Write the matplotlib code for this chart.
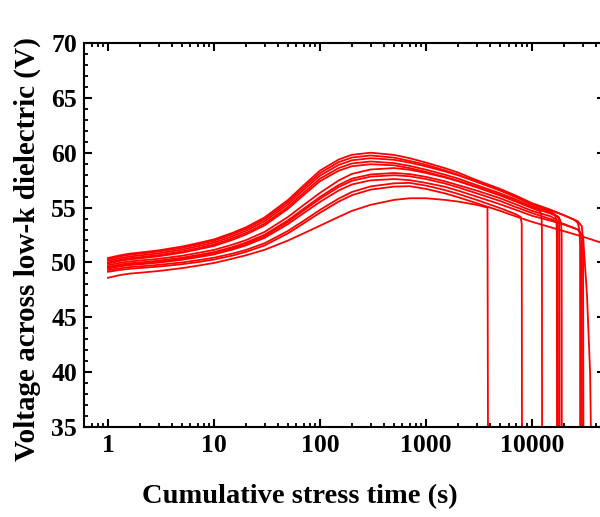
import matplotlib
matplotlib.use("Agg")
import matplotlib.pyplot as plt
from matplotlib.ticker import LogLocator, NullFormatter, MultipleLocator, FixedLocator

plt.rcParams['font.family'] = ['Liberation Serif', 'DejaVu Serif']
plt.rcParams['font.weight'] = 'bold'

# common time grid (s)
T = [1, 1.3, 1.6, 2, 3, 5, 7, 10, 15, 20, 30, 50, 70, 100, 150, 200, 300,
     500, 700, 1000, 1500, 2000, 3000, 5000, 7000, 10000]

# voltage (V) on grid T (truncated where breakdown occurs earlier)
c1 = [50.4, 50.65, 50.8, 50.9, 51.1, 51.45, 51.75, 52.1, 52.7, 53.2, 54.1, 55.7, 57.02, 58.37, 59.38, 59.81, 60.0,
      59.8, 59.5, 59.1, 58.6, 58.2, 57.5, 56.7, 56.1, 55.4]
c2 = [50.3, 50.55, 50.7, 50.79, 50.99, 51.33, 51.63, 51.97, 52.57, 53.06, 53.94, 55.52, 56.82, 58.14, 59.14, 59.56, 59.75,
      59.55, 59.25, 58.9, 58.4, 58.0, 57.35, 56.55, 55.95, 55.25]
c3 = [50.15, 50.39, 50.54, 50.64, 50.83, 51.17, 51.47, 51.8, 52.39, 52.88, 53.75, 55.31, 56.6, 57.91, 58.89, 59.31, 59.5,
      59.35, 59.1, 58.75, 58.3, 57.95, 57.35, 56.6, 56.0, 55.35]
c4 = [50.0, 50.24, 50.39, 50.48, 50.67, 51.0, 51.3, 51.63, 52.21, 52.69, 53.54, 55.08, 56.35, 57.64, 58.6, 59.02, 59.2,
      59.05, 58.8, 58.45, 58.0, 57.65, 57.05, 56.3, 55.75, 55.1]
c5 = [49.9, 50.14, 50.28, 50.37, 50.56, 50.89, 51.18, 51.5, 52.07, 52.54, 53.38, 54.9, 56.14, 57.41, 58.36, 58.77, 58.95,
      58.85, 58.6, 58.25, 57.8, 57.45, 56.9, 56.15, 55.6, 55.0]
c6 = [49.75, 49.96, 50.09, 50.17, 50.33, 50.61, 50.86, 51.14, 51.63, 52.03, 52.78, 54.15, 55.23, 56.34, 57.47, 58.07, 58.47,
      58.6, 58.45, 58.15, 57.75, 57.4, 56.85, 56.1, 55.55, 54.95]
c7 = [49.6, 49.81, 49.92, 50.0, 50.16, 50.43, 50.67, 50.94, 51.41, 51.81, 52.52, 53.85, 54.89, 55.97, 57.06, 57.64, 58.02,
      58.15, 58.05, 57.8, 57.4, 57.05, 56.55, 55.85, 55.3, 54.7]
c8 = [49.5, 49.7, 49.82, 49.9, 50.05, 50.32, 50.56, 50.83, 51.29, 51.68, 52.39, 53.7, 54.73, 55.8, 56.87, 57.44, 57.82,
      57.95, 57.85, 57.6, 57.2, 56.85, 56.3, 55.6, 55.05, 54.5]
c9 = [49.45, 49.65, 49.76, 49.83, 49.98, 50.24, 50.47, 50.73, 51.18, 51.55, 52.24, 53.5, 54.49, 55.52, 56.56, 57.11, 57.48,
      57.6, 57.5, 57.25, 56.9, 56.55, 56.0, 55.3, 54.8, 54.25]
c10 = [49.3, 49.47, 49.58, 49.64, 49.78, 50.0, 50.2, 50.43, 50.81, 51.14, 51.75, 52.88, 53.79, 54.79, 55.82, 56.42, 56.93,
       57.21, 57.25, 57.0, 56.6, 56.25, 55.7, 54.95, 54.4]
c11 = [49.15, 49.32, 49.42, 49.49, 49.62, 49.84, 50.03, 50.26, 50.63, 50.96, 51.55, 52.66, 53.56, 54.53, 55.55, 56.13, 56.64,
       56.91, 56.95, 56.7, 56.3, 55.95, 55.4, 54.7, 54.2, 53.7]
c12 = [48.6, 48.85, 48.98, 49.06, 49.22, 49.48, 49.7, 49.95, 50.35, 50.65, 51.15, 52.0, 52.65, 53.35, 54.15, 54.7, 55.25,
       55.7, 55.85, 55.85, 55.7, 55.55, 55.25]

# late-time tails including the breakdown drop (time s, voltage V)
tail1_t = [15000, 20000, 25000, 27000, 28000, 28400, 28450]; tail1_v = [54.8, 54.3, 53.9, 53.6, 53.0, 51.5, 30]
tail2_t = [15000, 16500, 17000, 17150, 17200];               tail2_v = [54.65, 54.35, 53.8, 52.5, 30]
tail3_t = [15000, 20000, 27000, 29500, 30300, 30600];        tail3_v = [54.75, 54.3, 53.75, 53.3, 52.0, 30]
tail4_t = [15000, 17500, 18000, 18150, 18200];               tail4_v = [54.55, 54.2, 53.7, 52.5, 30]
tail5_t = [15000, 18000, 18800, 19050, 19100];               tail5_v = [54.45, 54.1, 53.6, 52.3, 30]
tail6_t = [12000, 12300, 12400, 12450];                      tail6_v = [54.65, 54.2, 53.0, 30]
tail7_t = [15000, 17000, 17500, 17600];                      tail7_v = [54.2, 53.9, 53.3, 30]
tail8_t = [15000, 20000, 27000, 30300, 33000, 35300, 36500]; tail8_v = [53.95, 53.5, 53.0, 52.4, 47.0, 40.0, 30]
tail9_t = [15000, 20000, 27000, 29000, 29500, 29600];        tail9_v = [53.8, 53.45, 53.0, 52.6, 51.5, 30]
tail10_t = [7800, 8000, 8050];                               tail10_v = [54.15, 53.5, 30]
tail11_t = [15000, 20000, 30000, 45000, 50000];              tail11_v = [53.2, 52.85, 52.35, 51.8, 51.6]
tail12_t = [3800, 3850];                                     tail12_v = [55.0, 30]

curves = [(c1, tail1_t, tail1_v), (c2, tail2_t, tail2_v), (c3, tail3_t, tail3_v),
          (c4, tail4_t, tail4_v), (c5, tail5_t, tail5_v), (c6, tail6_t, tail6_v),
          (c7, tail7_t, tail7_v), (c8, tail8_t, tail8_v), (c9, tail9_t, tail9_v),
          (c10, tail10_t, tail10_v), (c11, tail11_t, tail11_v), (c12, tail12_t, tail12_v)]

fig = plt.figure(figsize=(6.0, 5.17), dpi=100)
ax = fig.add_axes([84/600, 1-427/517, (605-84)/600, (427-43)/517])

for vals, tt, tv in curves:
    xs = list(T[:len(vals)]) + tt
    ys = list(vals) + tv
    ax.plot(xs, ys, color='#ff0000', lw=1.3, solid_joinstyle='round')

ax.set_xscale('log')
ax.set_xlim(0.594, 48800)
ax.set_ylim(35, 70)

ax.xaxis.set_major_locator(FixedLocator([1, 10, 100, 1000, 10000]))
ax.xaxis.set_minor_locator(LogLocator(base=10, subs=range(2, 10), numticks=20))
ax.xaxis.set_minor_formatter(NullFormatter())
ax.set_xticklabels(['1', '10', '100', '1000', '10000'])
ax.yaxis.set_major_locator(MultipleLocator(5))
ax.yaxis.set_minor_locator(MultipleLocator(1))

for s in ax.spines.values():
    s.set_linewidth(1.5)

ax.tick_params(axis='both', which='major', direction='in', length=6, width=1.5,
               labelsize=18.5, top=True, right=True, pad=5)
ax.tick_params(axis='x', which='minor', direction='in', length=3, width=1.3, top=True)
ax.tick_params(axis='y', which='minor', direction='in', length=3, width=1.3, right=False)
for lab in ax.get_xticklabels() + ax.get_yticklabels():
    lab.set_fontweight('bold')

fig.text(0.5, 1-497/517, 'Cumulative stress time (s)', ha='center', va='center',
         fontsize=20.5, fontweight='bold')
fig.text(27/600, 1-249/517, 'Voltage across low-k dielectric (V)', ha='center', va='center',
         rotation=90, fontsize=21, fontweight='bold')

fig.savefig('out.png', dpi=100)
